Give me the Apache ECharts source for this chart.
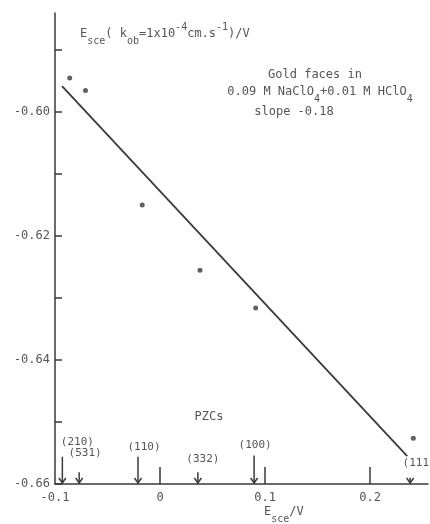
<!DOCTYPE html>
<html>
<head>
<meta charset="utf-8">
<script src="https://cdn.jsdelivr.net/npm/echarts@6/dist/echarts.min.js"></script>
<style>
  html, body { margin: 0; padding: 0; background: #fff; }
  #chart { width: 430px; height: 524px; }
</style>
</head>
<body>
<div id="chart"></div>
<script>
// Potential at which k_ob = 1e-4 cm/s for each gold face, vs. its PZC (V vs SCE)
const faceX = [-0.086, -0.071, -0.017, 0.038, 0.091, 0.241];
const faceE = [-0.5945, -0.5965, -0.6150, -0.6255, -0.6316, -0.6526];

// Least-squares line end points
const fitX = [-0.0933, 0.2352];
const fitE = [-0.5958, -0.6555];

// PZC markers along the potential axis
const pzcFaces = ['(210)', '(531)', '(110)', '(332)', '(100)', '(111)'];
const pzcX = [-0.093, -0.077, -0.021, 0.036, 0.0895, 0.238];
const pzcTop = [-0.6556, -0.6581, -0.6556, -0.6581, -0.6554, -0.6590];

// Axis ticks and labels
const yTicks = [-0.66, -0.65, -0.64, -0.63, -0.62, -0.61, -0.60, -0.59];
const yLabels = [-0.66, -0.64, -0.62, -0.60];
const xTicks = [0, 0.1, 0.2];
const xLabels = [-0.1, 0, 0.1, 0.2];

const FONT = '"DejaVu Sans Mono", "Liberation Mono", monospace';
const INK = '#3a3a3a';
const TEXT = '#555';

// label placement relative to each arrow's top (pixels)
const pzcLabelOffset = [[15, -15], [6, -19], [6, -10], [5, -13], [1, -10], [9, -15]];

const chart = echarts.init(document.getElementById('chart'));

const subRich = {
  n: { fontFamily: FONT, fontSize: 12, color: TEXT, fill: TEXT, lineHeight: 24, verticalAlign: 'middle' },
  sub: { fontFamily: FONT, fontSize: 10, color: TEXT, fill: TEXT, lineHeight: 10, verticalAlign: 'bottom' },
  sup: { fontFamily: FONT, fontSize: 10, color: TEXT, fill: TEXT, lineHeight: 10, verticalAlign: 'top' }
};

chart.setOption({
  animation: false,
  backgroundColor: '#fff',
  grid: { left: 55, right: 2, top: 13, bottom: 40 },
  xAxis: {
    type: 'value',
    min: -0.1,
    max: 0.255,
    splitLine: { show: false },
    axisLine: { show: true, onZero: false, lineStyle: { color: INK, width: 1.5 } },
    axisTick: { show: true, inside: true, length: 17, customValues: xTicks, lineStyle: { color: INK, width: 1.5 } },
    axisLabel: {
      customValues: xLabels,
      margin: 8,
      fontFamily: FONT, fontSize: 12, color: TEXT,
      formatter: v => (Math.abs(v) < 1e-9 ? '0' : v.toFixed(1))
    }
  },
  yAxis: {
    type: 'value',
    min: -0.66,
    max: -0.584,
    splitLine: { show: false },
    axisLine: { show: true, onZero: false, lineStyle: { color: INK, width: 1.5 } },
    axisTick: { show: true, inside: true, length: 7, customValues: yTicks, lineStyle: { color: INK, width: 1.5 } },
    axisLabel: {
      customValues: yLabels,
      margin: 5,
      fontFamily: FONT, fontSize: 12, color: TEXT,
      formatter: v => v.toFixed(2)
    }
  },
  series: [
    {
      type: 'line',
      data: fitX.map((x, i) => [x, fitE[i]]),
      symbol: 'none',
      lineStyle: { color: INK, width: 1.8 },
      z: 2
    },
    {
      type: 'scatter',
      data: faceX.map((x, i) => [x, faceE[i]]),
      symbol: 'circle',
      symbolSize: 5,
      itemStyle: { color: INK },
      z: 3
    },
    {
      type: 'custom',
      clip: false,
      data: pzcX.map((x, i) => [x, pzcTop[i], i]),
      renderItem: (params, api) => {
        const x = api.value(0);
        const i = api.value(2);
        const top = api.coord([x, api.value(1)]);
        const base = api.coord([x, -0.66]);
        const off = pzcLabelOffset[i];
        const lineStyle = { stroke: INK, lineWidth: 1.5, fill: null };
        return {
          type: 'group',
          children: [
            { type: 'line', shape: { x1: top[0], y1: top[1], x2: base[0], y2: base[1] }, style: lineStyle },
            { type: 'polyline', shape: { points: [[base[0] - 3.5, base[1] - 6], [base[0], base[1] - 1], [base[0] + 3.5, base[1] - 6]] }, style: lineStyle },
            {
              type: 'text',
              x: top[0] + off[0],
              y: top[1] + off[1],
              style: { text: pzcFaces[i], fontFamily: FONT, fontSize: 11, fill: TEXT, align: 'center', verticalAlign: 'middle' }
            }
          ]
        };
      },
      z: 4
    }
  ],
  graphic: [
    {
      type: 'text', left: 80, top: 22,
      style: {
        text: '{n|E}{sub|sce}{n|( k}{sub|ob}{n|=1x10}{sup|-4}{n|cm.s}{sup|-1}{n|)/V}',
        rich: subRich, fill: TEXT
      }
    },
    {
      type: 'text', x: 315, y: 75,
      style: { text: 'Gold faces in', fontFamily: FONT, fontSize: 12, fill: TEXT, align: 'center', verticalAlign: 'middle' }
    },
    {
      type: 'text', x: 320, y: 80,
      style: {
        text: '{n|0.09 M NaClO}{sub|4}{n|+0.01 M HClO}{sub|4}',
        rich: subRich, fill: TEXT, align: 'center', verticalAlign: 'top'
      }
    },
    {
      type: 'text', x: 294, y: 112,
      style: { text: 'slope -0.18', fontFamily: FONT, fontSize: 12, fill: TEXT, align: 'center', verticalAlign: 'middle' }
    },
    {
      type: 'text', x: 209, y: 417,
      style: { text: 'PZCs', fontFamily: FONT, fontSize: 12, fill: TEXT, align: 'center', verticalAlign: 'middle' }
    },
    {
      type: 'text', left: 264, top: 506,
      style: { text: '{n|E}{sub|sce}{n|/V}', rich: subRich, fill: TEXT }
    }
  ]
});
</script>
</body>
</html>
